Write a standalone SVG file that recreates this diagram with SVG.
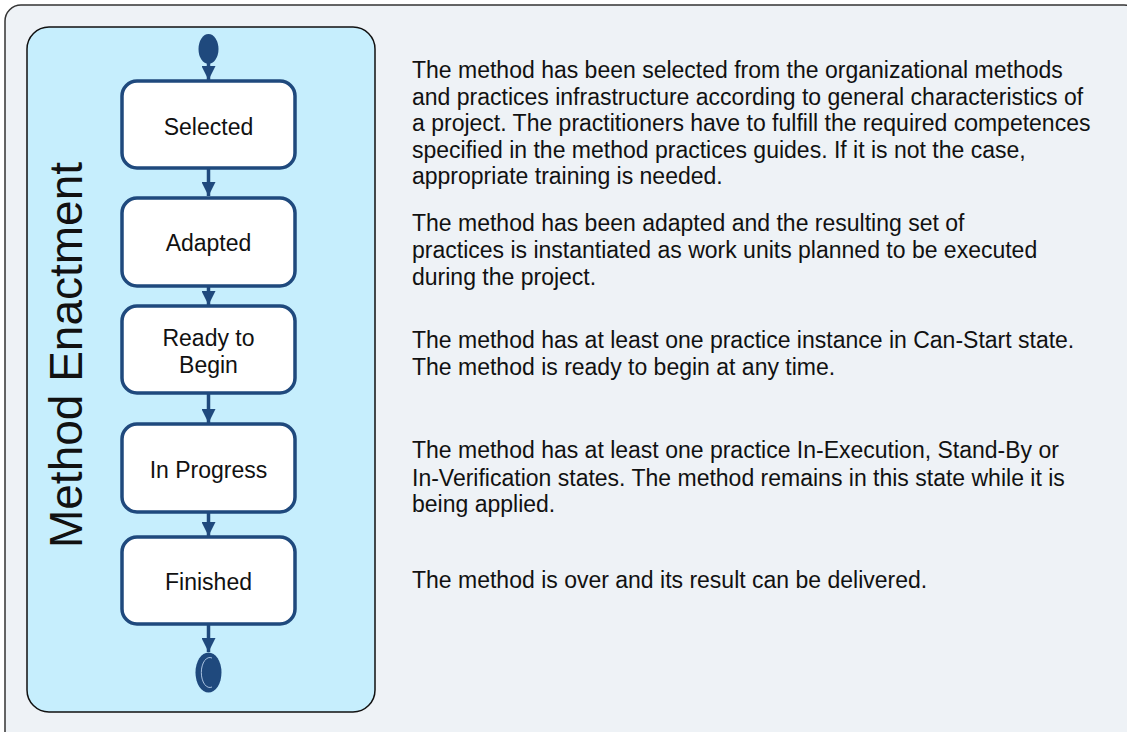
<svg xmlns="http://www.w3.org/2000/svg" width="1127" height="732" viewBox="0 0 1127 732">
<defs>
<marker id="ah" markerUnits="userSpaceOnUse" markerWidth="14" markerHeight="14" viewBox="0 0 12 12" refX="12" refY="6" orient="auto">
<path d="M0,0 L12,6 L0,12 z" fill="#1F497D"/>
</marker>
<style>
.state{fill:#ffffff;stroke:#1F497D;stroke-width:3.5}
.lbl{font-family:"Liberation Sans",Arial,sans-serif;font-size:23px;fill:#111;text-anchor:middle}
.desc{font-family:"Liberation Sans",Arial,sans-serif;font-size:23px;fill:#111}
.conn{stroke:#1F497D;stroke-width:3.5;fill:none;marker-end:url(#ah)}
</style>
</defs>
<rect x="5" y="5" width="1135" height="745" rx="16" fill="#EEF2F6" stroke="#333" stroke-width="1.5"/>
<g id="panel">
<rect x="27" y="27" width="348" height="685" rx="22" fill="#C6EEFD" stroke="#111" stroke-width="1.5"/>
<text transform="translate(82,355) rotate(-90)" font-family="Liberation Sans, Arial, sans-serif" font-size="46" fill="#111" text-anchor="middle">Method Enactment</text>
</g>
<g id="connectors">
<line class="conn" x1="208.5" y1="63" x2="208.5" y2="80"/>
<line class="conn" x1="208.5" y1="169" x2="208.5" y2="196"/>
<line class="conn" x1="208.5" y1="287" x2="208.5" y2="305"/>
<line class="conn" x1="208.5" y1="394" x2="208.5" y2="423"/>
<line class="conn" x1="208.5" y1="513" x2="208.5" y2="536"/>
<line class="conn" x1="208.5" y1="625" x2="208.5" y2="652"/>
</g>
<g id="start">
<ellipse cx="208.5" cy="49" rx="10" ry="15" fill="#1F497D"/>
</g>
<g id="selected">
<rect class="state" x="122" y="81" width="173" height="87" rx="15"/>
<text class="lbl" x="208.5" y="135">Selected</text>
</g>
<g id="adapted">
<rect class="state" x="122" y="198" width="173" height="88" rx="15"/>
<text class="lbl" x="208.5" y="251">Adapted</text>
</g>
<g id="ready">
<rect class="state" x="122" y="306" width="173" height="87" rx="15"/>
<text class="lbl" x="208.5" y="346">Ready to</text>
<text class="lbl" x="208.5" y="373">Begin</text>
</g>
<g id="inprogress">
<rect class="state" x="122" y="424" width="173" height="88" rx="15"/>
<text class="lbl" x="208.5" y="478">In Progress</text>
</g>
<g id="finished">
<rect class="state" x="122" y="537" width="173" height="87" rx="15"/>
<text class="lbl" x="208.5" y="590">Finished</text>
</g>
<g id="end">
<ellipse cx="208.5" cy="672.5" rx="13" ry="20" fill="#1F497D"/>
<path d="M212,658 A8.5,15 0 1 0 212,687" fill="none" stroke="#A9C2E0" stroke-width="1"/>
</g>
<g id="descriptions">
<text class="desc" x="412" y="78">The method has been selected from the organizational methods</text>
<text class="desc" x="412" y="104.5">and practices infrastructure according to general characteristics of</text>
<text class="desc" x="412" y="131">a project.  The practitioners have to fulfill the required competences</text>
<text class="desc" x="412" y="157.5">specified in the method practices guides. If it is not the case,</text>
<text class="desc" x="412" y="184">appropriate training is needed.</text>
<text class="desc" x="412" y="231">The method has been adapted and the resulting set of</text>
<text class="desc" x="412" y="258">practices is instantiated as work units planned to be executed</text>
<text class="desc" x="412" y="285">during the project.</text>
<text class="desc" x="412" y="348">The method has at least one practice instance in Can-Start state.</text>
<text class="desc" x="412" y="375">The method is ready to begin at any time.</text>
<text class="desc" x="412" y="458">The method has at least one practice In-Execution, Stand-By or</text>
<text class="desc" x="412" y="485.5">In-Verification states. The method remains in this state  while it is</text>
<text class="desc" x="412" y="512">being applied.</text>
<text class="desc" x="412" y="588">The method is over and its result can be delivered.</text>
</g>
</svg>
